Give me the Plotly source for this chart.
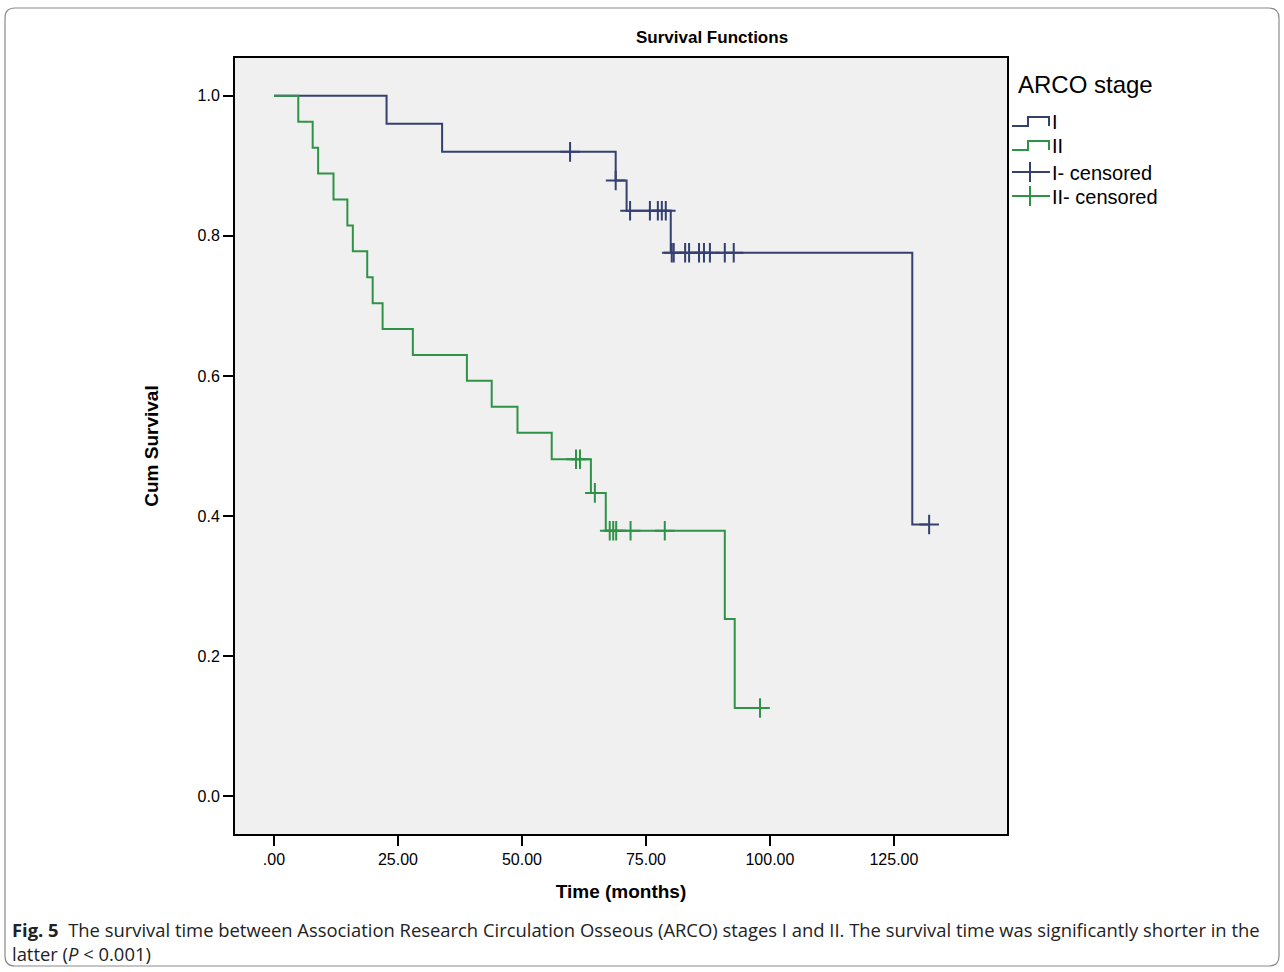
import plotly.graph_objects as go

# ---------------- data ----------------
stage1_time = [0, 22.7, 33.9, 68.9, 71.1, 80.0, 128.7, 132.1]
stage1_surv = [1.0, 0.96, 0.92, 0.879, 0.836, 0.776, 0.388, 0.388]

stage2_time = [0, 4.9, 7.8, 8.9, 12.0, 14.8, 15.9, 18.8, 19.9, 21.9, 28.0,
               38.9, 43.9, 49.1, 56.0, 63.9, 66.9, 90.9, 92.9, 98.0]
stage2_surv = [1.0, 0.963, 0.926, 0.889, 0.852, 0.815, 0.778, 0.741, 0.704,
               0.667, 0.630, 0.593, 0.556, 0.519, 0.481, 0.433, 0.379, 0.253,
               0.126, 0.126]

stage1_cens_time = [59.7, 68.9, 71.8, 75.8, 77.4, 78.2, 79.0, 80.2, 80.6, 82.9,
                    83.7, 85.7, 86.7, 87.9, 90.9, 92.7, 132.1]
stage1_cens_surv = [0.92, 0.879, 0.836, 0.836, 0.836, 0.836, 0.836, 0.776,
                    0.776, 0.776, 0.776, 0.776, 0.776, 0.776, 0.776, 0.776,
                    0.388]

stage2_cens_time = [60.9, 61.7, 64.7, 67.7, 68.4, 69.0, 71.9, 78.8, 98.0]
stage2_cens_surv = [0.481, 0.481, 0.433, 0.379, 0.379, 0.379, 0.379, 0.379,
                    0.126]

x_ticks = [0, 25, 50, 75, 100, 125]
x_tick_labels = [".00", "25.00", "50.00", "75.00", "100.00", "125.00"]
y_ticks = [0, 0.2, 0.4, 0.6, 0.8, 1.0]
y_tick_labels = ["0.0", "0.2", "0.4", "0.6", "0.8", "1.0"]

legend_title = "ARCO stage"
legend_labels = ["I", "II", "I- censored", "II- censored"]

# ---------------- style ----------------
BLUE = "#34406f"
GREEN = "#2f9347"
FONT = "Arial, Liberation Sans, sans-serif"
W, H = 1284, 972
L, R, T, B = 235, 1007, 58, 834   # plot area in pixels


def px_x(p):
    return (p - L) / (R - L)


def px_y(p):
    return (B - p) / (B - T)


fig = go.Figure()
fig.add_trace(go.Scatter(x=stage1_time, y=stage1_surv, mode="lines",
                         line=dict(color=BLUE, width=2, shape="hv"),
                         name=legend_labels[0]))
fig.add_trace(go.Scatter(x=stage2_time, y=stage2_surv, mode="lines",
                         line=dict(color=GREEN, width=2, shape="hv"),
                         name=legend_labels[1]))
fig.add_trace(go.Scatter(x=stage1_cens_time, y=stage1_cens_surv, mode="markers",
                         marker=dict(symbol="cross-thin", size=14,
                                     line=dict(color=BLUE, width=2)),
                         name=legend_labels[2]))
fig.add_trace(go.Scatter(x=stage2_cens_time, y=stage2_cens_surv, mode="markers",
                         marker=dict(symbol="cross-thin", size=14,
                                     line=dict(color=GREEN, width=2)),
                         name=legend_labels[3]))

axis_common = dict(showline=True, linecolor="black", linewidth=2, mirror=True,
                   ticks="outside", ticklen=10, tickwidth=2, tickcolor="black",
                   showgrid=False, zeroline=False,
                   tickfont=dict(family=FONT, size=16, color="black"))

fig.update_xaxes(range=[-7.86, 147.8], tickvals=x_ticks, ticktext=x_tick_labels,
                 title=dict(text="<b>Time (months)</b>", standoff=17,
                            font=dict(family=FONT, size=19, color="black")),
                 **axis_common)
fig.update_yaxes(range=[-0.054, 1.054], tickvals=y_ticks, ticktext=y_tick_labels,
                 title=dict(text="<b>Cum Survival</b>", standoff=34,
                            font=dict(family=FONT, size=19, color="black")),
                 **axis_common)

# outer rounded frame
x0, y0, x1, y1, r = 5, 8, 1279, 966, 10
path = (f"M {px_x(x0 + r)} {px_y(y0)} L {px_x(x1 - r)} {px_y(y0)} "
        f"Q {px_x(x1)} {px_y(y0)} {px_x(x1)} {px_y(y0 + r)} "
        f"L {px_x(x1)} {px_y(y1 - r)} Q {px_x(x1)} {px_y(y1)} {px_x(x1 - r)} {px_y(y1)} "
        f"L {px_x(x0 + r)} {px_y(y1)} Q {px_x(x0)} {px_y(y1)} {px_x(x0)} {px_y(y1 - r)} "
        f"L {px_x(x0)} {px_y(y0 + r)} Q {px_x(x0)} {px_y(y0)} {px_x(x0 + r)} {px_y(y0)} Z")
fig.add_shape(type="path", path=path, xref="paper", yref="paper",
              line=dict(color="#8a8a8a", width=1.2), layer="below")

# title
fig.add_annotation(x=px_x(712), y=px_y(37), xref="paper", yref="paper",
                   xanchor="center", yanchor="middle",
                   text="<b>Survival Functions</b>", showarrow=False,
                   font=dict(family=FONT, size=17, color="black"))

# ---------------- custom legend (SPSS style) ----------------
fig.add_annotation(x=px_x(1016), y=px_y(84), xref="paper", yref="paper",
                   xanchor="left", yanchor="middle", showarrow=False,
                   text=legend_title, font=dict(family=FONT, size=24, color="black"))
row_y = [121, 145, 172, 196]
row_col = [BLUE, GREEN, BLUE, GREEN]
for i, (lab, yy, col) in enumerate(zip(legend_labels, row_y, row_col)):
    if i < 2:
        p = (f"M {px_x(1012)} {px_y(yy + 5)} L {px_x(1028)} {px_y(yy + 5)} "
             f"L {px_x(1028)} {px_y(yy - 4)} L {px_x(1049)} {px_y(yy - 4)} "
             f"L {px_x(1049)} {px_y(yy + 5)}")
        fig.add_shape(type="path", path=p, xref="paper", yref="paper",
                      line=dict(color=col, width=2))
    else:
        fig.add_shape(type="line", x0=px_x(1012), x1=px_x(1050),
                      y0=px_y(yy), y1=px_y(yy), xref="paper", yref="paper",
                      line=dict(color=col, width=2))
        fig.add_shape(type="line", x0=px_x(1030), x1=px_x(1030),
                      y0=px_y(yy - 10), y1=px_y(yy + 10), xref="paper", yref="paper",
                      line=dict(color=col, width=2))
    fig.add_annotation(x=px_x(1050), y=px_y(yy + 1), xref="paper", yref="paper",
                       xanchor="left", yanchor="middle", showarrow=False,
                       text=lab, font=dict(family=FONT, size=20, color="black"))

# caption
CAP_FONT = "Open Sans, sans-serif"
fig.add_annotation(x=px_x(10), y=px_y(929), xref="paper", yref="paper",
                   xanchor="left", yanchor="middle", showarrow=False,
                   text="<b>Fig. 5</b>  The survival time between Association Research "
                        "Circulation Osseous (ARCO) stages I and II. The survival time was "
                        "significantly shorter in the",
                   font=dict(family=CAP_FONT, size=18.4, color="#222222"))
fig.add_annotation(x=px_x(10), y=px_y(954), xref="paper", yref="paper",
                   xanchor="left", yanchor="middle", showarrow=False,
                   text="latter (<i>P</i> < 0.001)",
                   font=dict(family=CAP_FONT, size=18.4, color="#222222"))

fig.update_layout(
    width=W, height=H,
    margin=dict(l=L, r=W - R, t=T, b=H - B, pad=0),
    paper_bgcolor="white", plot_bgcolor="#f0f0f0",
    showlegend=False,
)

fig.write_html("out.html")
